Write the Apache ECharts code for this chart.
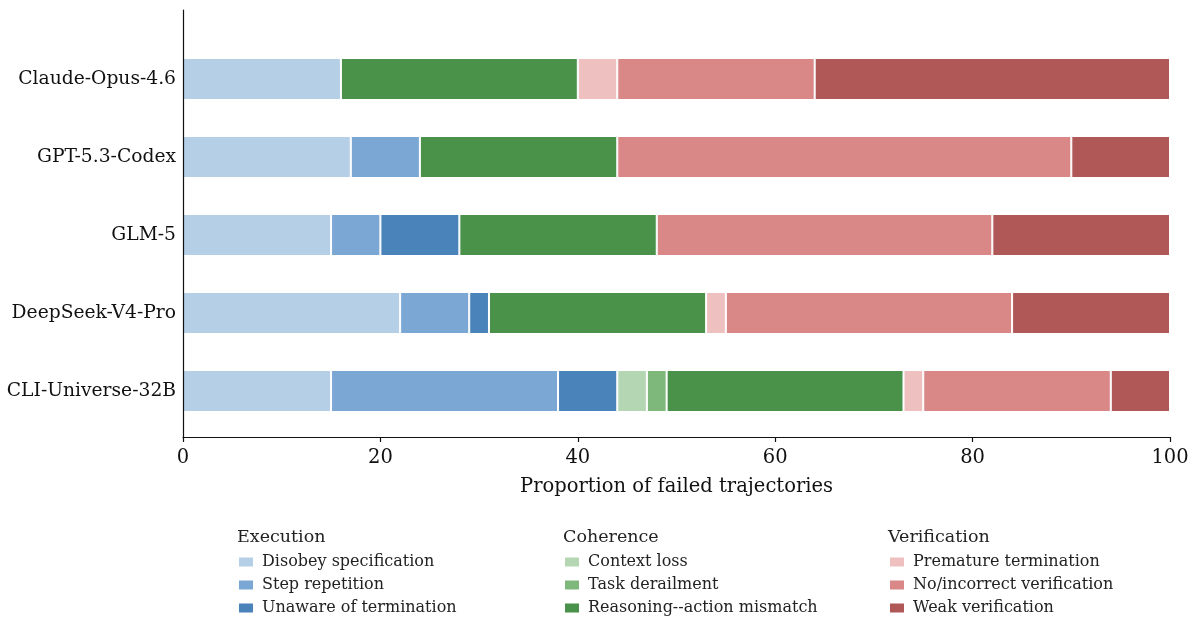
<!DOCTYPE html>
<html>
<head>
<meta charset="utf-8">
<script src="https://cdn.jsdelivr.net/npm/echarts@6/dist/echarts.min.js"></script>
<style>html,body{margin:0;padding:0;background:#fff;}#c{width:1195px;height:617px;}</style>
</head>
<body>
<div id="c"></div>
<script>
const models = ["Claude-Opus-4.6", "GPT-5.3-Codex", "GLM-5", "DeepSeek-V4-Pro", "CLI-Universe-32B"];
const xTicks = [0, 20, 40, 60, 80, 100];
const groupTitles = ["Execution", "Coherence", "Verification"];
const categoryNames = [
  "Disobey specification", "Step repetition", "Unaware of termination",
  "Context loss", "Task derailment", "Reasoning--action mismatch",
  "Premature termination", "No/incorrect verification", "Weak verification"
];
// values per category, in model order
const disobeySpec      = [16, 17, 15, 22, 15];
const stepRepetition   = [0, 7, 5, 7, 23];
const unawareTerm      = [0, 0, 8, 2, 6];
const contextLoss      = [0, 0, 0, 0, 3];
const taskDerailment   = [0, 0, 0, 0, 2];
const reasoningAction  = [24, 20, 20, 22, 24];
const prematureTerm    = [4, 0, 0, 2, 2];
const noIncorrectVerif = [20, 46, 34, 29, 19];
const weakVerif        = [36, 10, 18, 16, 6];

const seriesValues = [disobeySpec, stepRepetition, unawareTerm, contextLoss, taskDerailment,
  reasoningAction, prematureTerm, noIncorrectVerif, weakVerif];
const colors = ["#b5cfe7", "#7ba7d4", "#4a82ba", "#b5d6b3", "#7eb87b", "#4a924a",
  "#eec0c0", "#d98787", "#b05858"];

const FONT = "DejaVu Serif";
const chart = echarts.init(document.getElementById('c'), null, {renderer: 'canvas'});

const series = seriesValues.map((vals, i) => ({
  name: categoryNames[i],
  type: 'bar',
  stack: 'total',
  xAxisIndex: 0,
  yAxisIndex: 0,
  barWidth: 42,
  data: vals.map(v => v === 0 ? null : v),
  itemStyle: {color: colors[i], borderColor: '#fff', borderWidth: 1},
  emphasis: {disabled: true}
}));

const legendLefts = [237, 563, 888];
const legends = groupTitles.map((t, g) => ({
  orient: 'vertical',
  left: legendLefts[g],
  top: 554,
  padding: 0,
  itemWidth: 16,
  itemHeight: 11,
  itemGap: 7,
  icon: 'rect',
  selectedMode: false,
  data: categoryNames.slice(g * 3, g * 3 + 3),
  textStyle: {fontFamily: FONT, fontSize: 16, color: '#222', lineHeight: 16, padding: [0, 0, 0, 3]}
}));

const titles = groupTitles.map((t, g) => ({
  text: t,
  left: legendLefts[g],
  top: 528,
  padding: 0,
  textStyle: {fontFamily: FONT, fontSize: 17.5, fontWeight: 'normal', color: '#222'}
}));

chart.setOption({
  animation: false,
  backgroundColor: '#fff',
  title: titles,
  legend: legends,
  grid: [
    {left: 183, right: 25, top: 40, bottom: 187, containLabel: false},
    {left: 183, right: 25, top: 10, bottom: 180, containLabel: false}
  ],
  xAxis: [
    {
      gridIndex: 0, type: 'value', min: xTicks[0], max: xTicks[xTicks.length - 1], interval: 20,
      offset: 7, z: 10,
      name: 'Proportion of failed trajectories', nameLocation: 'middle', nameGap: 40,
      nameTextStyle: {fontFamily: FONT, fontSize: 19.5, color: '#111'},
      axisLine: {show: true, lineStyle: {color: '#111', width: 1.2}},
      axisTick: {show: true, length: 5, lineStyle: {color: '#111', width: 1.2}},
      axisLabel: {fontFamily: FONT, fontSize: 19.5, color: '#111', margin: 11},
      splitLine: {show: false}
    },
    {gridIndex: 1, type: 'value', show: false, min: 0, max: 100}
  ],
  yAxis: [
    {
      gridIndex: 0, type: 'category', data: models, inverse: true,
      axisLine: {show: false}, axisTick: {show: false},
      axisLabel: {fontFamily: FONT, fontSize: 18.7, color: '#111', margin: 7},
      splitLine: {show: false}
    },
    {
      gridIndex: 1, type: 'value', min: 0, max: 1, z: 10,
      axisLine: {show: true, lineStyle: {color: '#111', width: 1.2}},
      axisTick: {show: false}, axisLabel: {show: false}, splitLine: {show: false}
    }
  ],
  series: series
});
</script>
</body>
</html>
